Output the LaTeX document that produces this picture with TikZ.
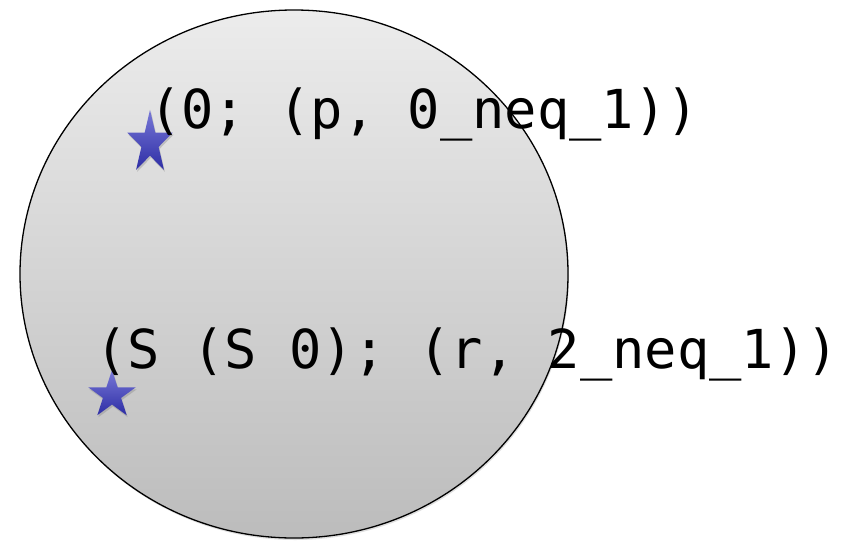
\documentclass[tikz,border=0pt]{standalone}
\usepackage{fontspec}
\setmonofont{DejaVu Sans Mono}
\usetikzlibrary{shapes.geometric,shadows,shadings}
\definecolor{startop}{RGB}{120,120,215}
\definecolor{starbot}{RGB}{45,45,165}
\definecolor{disctop}{RGB}{236,236,236}
\definecolor{discbot}{RGB}{188,188,188}
\tikzset{
  bluestar/.style={star, star points=5, star point ratio=2.618, inner sep=0pt,
    draw=none, top color=startop, bottom color=starbot,
    drop shadow={shadow xshift=1pt, shadow yshift=-2pt, opacity=0.35}},
  label/.style={font=\ttfamily\fontsize{53.7}{60}\selectfont, inner sep=0pt, anchor=base west, text=black},
  disc/.style={draw=black, line width=1.3pt, top color=disctop, bottom color=discbot,
    drop shadow={shadow xshift=1pt, shadow yshift=-2pt, opacity=0.25}}
}
\begin{document}
\begin{tikzpicture}[x=1pt,y=-1pt]
\useasboundingbox (0,0) rectangle (848,541);
\fill[white] (0,0) rectangle (848,541);
\path[disc] (294,274) ellipse [x radius=274, y radius=264];
\node[bluestar, minimum size=47.4pt, yscale=1.4, transform shape] (s1) at (150,143) {};
\node[bluestar, minimum size=50pt] (s2) at (112,395) {};
\node[label] (t1) at (149,128) {(0; (p, 0\_neq\_1))};
\node[label] (t2) at (95,368) {(S (S 0); (r, 2\_neq\_1))};
\end{tikzpicture}
\end{document}
